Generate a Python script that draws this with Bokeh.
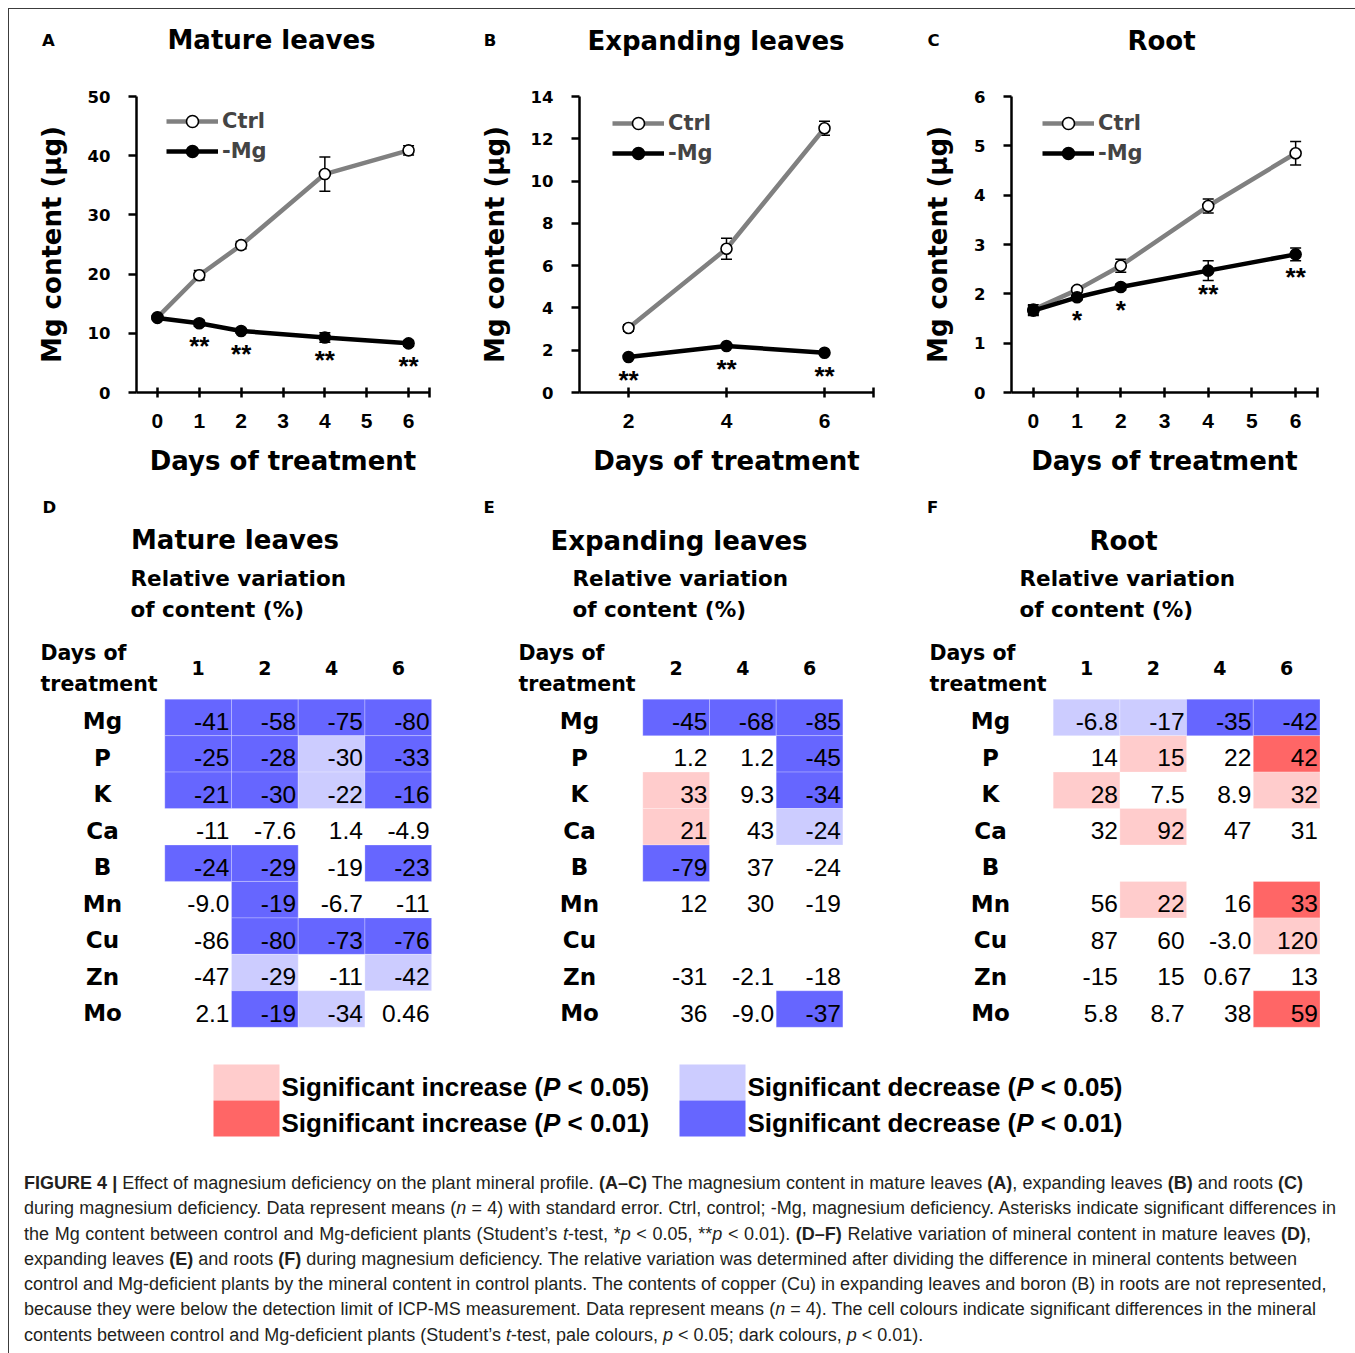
import math
from bokeh.plotting import figure
from bokeh.layouts import column, row
from bokeh.models import (Range1d, FixedTicker, Legend, LegendItem, Whisker,
                          TeeHead, ColumnDataSource, Div)
from bokeh.core.properties import value
from bokeh.embed import file_html
from bokeh.resources import INLINE

BOLD = "DejaVu Sans"
ARIAL = "Liberation Sans"

# ---------------- data: Mg content (line charts) ----------------
days_A = [0, 1, 2, 4, 6]
ctrl_A = [12.7, 19.8, 24.9, 36.9, 40.9]
ctrl_A_se = [0.3, 0.8, 0.6, 2.9, 0.8]
mg_A = [12.6, 11.7, 10.4, 9.3, 8.3]
mg_A_se = [0.4, 0.5, 0.4, 0.8, 0.5]
sig_A = ["", "**", "**", "**", "**"]

days_B = [2, 4, 6]
ctrl_B = [3.05, 6.8, 12.5]
ctrl_B_se = [0.15, 0.5, 0.33]
mg_B = [1.68, 2.2, 1.88]
mg_B_se = [0.08, 0.1, 0.08]
sig_B = ["**", "**", "**"]

days_C = [0, 1, 2, 4, 6]
ctrl_C = [1.68, 2.08, 2.57, 3.78, 4.85]
ctrl_C_se = [0.1, 0.05, 0.13, 0.14, 0.24]
mg_C = [1.66, 1.93, 2.14, 2.47, 2.80]
mg_C_se = [0.1, 0.05, 0.06, 0.2, 0.13]
sig_C = ["", "*", "*", "**", "**"]

panel_letters = ["A", "B", "C"]
panel_titles = ["Mature leaves", "Expanding leaves", "Root"]

# ---------------- data: relative variation (heatmaps) ----------------
elements = ["Mg", "P", "K", "Ca", "B", "Mn", "Cu", "Zn", "Mo"]

days_D = ["1", "2", "4", "6"]
val_D = [[-41, -58, -75, -80], [-25, -28, -30, -33], [-21, -30, -22, -16],
         [-11, -7.6, 1.4, -4.9], [-24, -29, -19, -23], [-9.0, -19, -6.7, -11],
         [-86, -80, -73, -76], [-47, -29, -11, -42], [2.1, -19, -34, 0.46]]
sig_D = [["d01", "d01", "d01", "d01"], ["d01", "d01", "d05", "d01"], ["d01", "d01", "d05", "d01"],
         ["", "", "", ""], ["d01", "d01", "", "d01"], ["", "d01", "", ""],
         ["", "d01", "d01", "d01"], ["", "d05", "", "d05"], ["", "d01", "d05", ""]]

days_E = ["2", "4", "6"]
val_E = [[-45, -68, -85], [1.2, 1.2, -45], [33, 9.3, -34], [21, 43, -24], [-79, 37, -24],
         [12, 30, -19], [None, None, None], [-31, -2.1, -18], [36, -9.0, -37]]
sig_E = [["d01", "d01", "d01"], ["", "", "d01"], ["i05", "", "d01"], ["i05", "", "d05"],
         ["d01", "", ""], ["", "", ""], ["", "", ""], ["", "", ""], ["", "", "d01"]]

days_F = ["1", "2", "4", "6"]
val_F = [[-6.8, -17, -35, -42], [14, 15, 22, 42], [28, 7.5, 8.9, 32], [32, 92, 47, 31],
         [None, None, None, None], [56, 22, 16, 33], [87, 60, -3.0, 120],
         [-15, 15, 0.67, 13], [5.8, 8.7, 38, 59]]
sig_F = [["d05", "d05", "d01", "d01"], ["", "i05", "", "i01"], ["i05", "", "", "i05"],
         ["", "i05", "", ""], ["", "", "", ""], ["", "i05", "", "i01"], ["", "", "", "i05"],
         ["", "", "", ""], ["", "", "", "i01"]]

sig_colors = {"i05": "#FFCCCC", "i01": "#FF6666", "d05": "#CCCCFF", "d01": "#6666FF"}

legend_keys = ["i05", "i01", "d05", "d01"]
legend_words = ["Significant increase (", "Significant increase (",
                "Significant decrease (", "Significant decrease ("]
legend_p = ["\u00a0< 0.05)", "\u00a0< 0.01)", "\u00a0< 0.05)", "\u00a0< 0.01)"]
legend_col = [0, 0, 1, 1]
legend_row = [0, 1, 0, 1]


def fmt(v):
    a = abs(v)
    if a >= 10:
        return f"{v:.0f}"
    d = 1 - math.floor(math.log10(a))
    return f"{v:.{d}f}"


# ---------------- header strip above the line charts ----------------
hx0, hw, hy0, hh = 9, 1346, 9, 70
pH = figure(width=hw, height=hh, x_range=Range1d(hx0, hx0 + hw), y_range=Range1d(hy0 + hh, hy0),
            x_axis_type=None, y_axis_type=None, output_backend="svg", toolbar_location=None,
            min_border=0)
pH.outline_line_color = None
pH.text(x=[48, 489.5, 933], y=[39.5, 39.5, 39.5], text=panel_letters, text_align="center",
        text_baseline="middle", text_font=value(BOLD), text_font_style="bold",
        text_font_size="16.5px", text_color="black")
pH.text(x=[271, 715.5, 1161], y=[39, 40.5, 40], text=panel_titles, text_align="center",
        text_baseline="middle", text_font=value(BOLD), text_font_style="bold",
        text_font_size="26px", text_color="black")


def line_panel(W, fl, fr, ft, fb, xr, yr, xticks, yticks, blank_tick,
               days, ctrl, ctrl_se, mg, mg_se, sig, leg_loc):
    H = 411
    p = figure(width=W, height=H, x_range=Range1d(*xr), y_range=Range1d(*yr),
               output_backend="svg", toolbar_location=None,
               min_border_left=fl, min_border_right=fr, min_border_top=ft, min_border_bottom=fb)
    p.xgrid.visible = False
    p.ygrid.visible = False
    p.outline_line_color = None

    for ax in (p.xaxis[0], p.yaxis[0]):
        ax.axis_line_width = 2.5
        ax.axis_line_color = "black"
        ax.major_tick_line_width = 2.5
        ax.major_tick_line_color = "black"
        ax.minor_tick_line_color = None
        ax.major_label_text_font_style = "bold"
        ax.major_label_text_color = "black"
        ax.axis_label_text_font = BOLD
        ax.axis_label_text_font_style = "bold"
        ax.axis_label_text_font_size = "26px"
        ax.axis_label_text_color = "black"
    p.xaxis.ticker = FixedTicker(ticks=xticks)
    p.xaxis.major_label_overrides = {blank_tick: ""}
    p.yaxis.ticker = FixedTicker(ticks=yticks)
    p.xaxis.major_tick_in = 5
    p.xaxis.major_tick_out = 5
    p.yaxis.major_tick_in = 0
    p.yaxis.major_tick_out = 8
    p.xaxis.major_label_text_font = ARIAL
    p.xaxis.major_label_text_font_size = "21px"
    p.xaxis.major_label_standoff = 16
    p.yaxis.major_label_text_font = BOLD
    p.yaxis.major_label_text_font_size = "16.5px"
    p.yaxis.major_label_standoff = 18
    p.xaxis.axis_label = "Days of treatment"
    p.yaxis.axis_label = "Mg content (µg)"
    p.xaxis.axis_label_standoff = 15
    p.yaxis.axis_label_standoff = 18

    src = ColumnDataSource(dict(
        x=days, c=ctrl, m=mg,
        cl=[v - e for v, e in zip(ctrl, ctrl_se)], cu=[v + e for v, e in zip(ctrl, ctrl_se)],
        ml=[v - e for v, e in zip(mg, mg_se)], mu=[v + e for v, e in zip(mg, mg_se)],
        s=sig))
    for lo, hi in (("cl", "cu"), ("ml", "mu")):
        p.add_layout(Whisker(base="x", lower=lo, upper=hi, source=src,
                             line_color="black", line_width=1.5,
                             upper_head=TeeHead(size=11, line_width=1.5, line_color="black"),
                             lower_head=TeeHead(size=11, line_width=1.5, line_color="black")))
    lc = p.line("x", "c", source=src, line_color="#808080", line_width=4.5)
    lm = p.line("x", "m", source=src, line_color="black", line_width=4.5)
    sc = p.scatter("x", "c", source=src, size=11, fill_color="white", line_color="black", line_width=1.6)
    sm = p.scatter("x", "m", source=src, size=11, fill_color="black", line_color="black", line_width=1.6)
    p.text("x", "m", text="s", source=src, text_align="center", text_baseline="middle",
           y_offset=23, text_font=value(ARIAL), text_font_style="bold", text_font_size="26px",
           text_color="black")

    leg = Legend(items=[LegendItem(label="Ctrl", renderers=[lc, sc]),
                        LegendItem(label="-Mg", renderers=[lm, sm])],
                 location=leg_loc, padding=0, margin=0, spacing=0,
                 glyph_width=52, glyph_height=30, label_standoff=4,
                 label_text_font=BOLD, label_text_font_style="bold", label_text_font_size="21px",
                 border_line_color=None, background_fill_alpha=0)
    p.add_layout(leg)
    return p


def heat_panel(fx0, W, cell_left, days, vals, sig, letter, letter_x, title, title_cx,
               title_cy, sub_x, days_x, elem_cx):
    fy0, H = 490, 555
    cw, rh = 66.7, 36.45
    cell_top = 698.7
    xc0 = cell_left + cw / 2
    yc0 = cell_top + rh / 2

    def X(px):
        return (px - xc0) / cw

    def Y(py):
        return (py - yc0) / rh

    p = figure(width=W, height=H, x_range=Range1d(X(fx0), X(fx0 + W)),
               y_range=Range1d(Y(fy0 + H), Y(fy0)), x_axis_type=None, y_axis_type=None,
               output_backend="svg", toolbar_location=None, min_border=0)
    p.outline_line_color = None

    cx, cy, cc = [], [], []
    tx, ty, tt = [], [], []
    for i, el in enumerate(elements):
        for j, d in enumerate(days):
            s = sig[i][j]
            if s:
                cx.append(j)
                cy.append(i)
                cc.append(sig_colors[s])
            v = vals[i][j]
            if v is not None:
                tx.append(j + 0.5)
                ty.append(i)
                tt.append(fmt(v))
    p.rect(x=cx, y=cy, width=1, height=1, fill_color=cc, line_color="white",
           line_alpha=0.25, line_width=1)
    mid = dict(text_baseline="middle", text_color="black")
    p.text(x=tx, y=ty, text=tt, text_align="right", x_offset=-2, y_offset=4,
           text_font=value(ARIAL), text_font_size="24.5px", **mid)
    p.text(x=[X(elem_cx)] * len(elements), y=list(range(len(elements))), text=elements,
           text_align="center", y_offset=4,
           text_font=value(BOLD), text_font_style="bold", text_font_size="23px", **mid)
    p.text(x=list(range(len(days))), y=[Y(667.5)] * len(days), text=days,
           text_align="center", text_font=value(BOLD), text_font_style="bold",
           text_font_size="19px", **mid)
    p.text(x=[X(days_x), X(days_x)], y=[Y(652.5), Y(683.5)], text=["Days of", "treatment"],
           text_align="left", text_font=value(BOLD), text_font_style="bold",
           text_font_size="20.5px", **mid)
    p.text(x=[X(title_cx)], y=[Y(title_cy)], text=[title], text_align="center",
           text_font=value(BOLD), text_font_style="bold", text_font_size="26px", **mid)
    p.text(x=[X(sub_x), X(sub_x)], y=[Y(577.5), Y(608.5)],
           text=["Relative variation", "of content (%)"], text_align="left",
           text_font=value(BOLD), text_font_style="bold", text_font_size="21.5px", **mid)
    p.text(x=[X(letter_x)], y=[Y(506.5)], text=[letter], text_align="left",
           text_font=value(BOLD), text_font_style="bold", text_font_size="16.5px", **mid)
    return p


pA = line_panel(441, 127, 21, 16, 97, (-0.5, 6.5), (0, 50), [0, 1, 2, 3, 4, 5, 6, 6.5],
                [0, 10, 20, 30, 40, 50], 6.5, days_A, ctrl_A, ctrl_A_se, mg_A, mg_A_se, sig_A,
                (30, 226))
pB = line_panel(445, 129, 22, 15, 98, (1, 7), (0, 14), [2, 4, 6, 7],
                [0, 2, 4, 6, 8, 10, 12, 14], 7, days_B, ctrl_B, ctrl_B_se, mg_B, mg_B_se, sig_B,
                (33, 224))
pC = line_panel(460, 116, 38, 17, 97, (-0.5, 6.5), (0, 6), [0, 1, 2, 3, 4, 5, 6, 6.5],
                [0, 1, 2, 3, 4, 5, 6], 6.5, days_C, ctrl_C, ctrl_C_se, mg_C, mg_C_se, sig_C,
                (31, 224))

pD = heat_panel(9, 461, 164.3, days_D, val_D, sig_D, "D", 42, "Mature leaves", 234.5, 539.5,
                130, 40, 102)
pE = heat_panel(470, 435, 642.3, days_E, val_E, sig_E, "E", 483, "Expanding leaves", 678.5, 540.5,
                572, 518, 579)
pF = heat_panel(905, 450, 1052.7, days_F, val_F, sig_F, "F", 926.5, "Root", 1123, 540.5,
                1019, 929, 990)

# ---------------- significance legend ----------------
AW = {"S": .667, "i": .278, "g": .611, "n": .611, "f": .333, "c": .556, "a": .556, "t": .333,
      " ": .278, "r": .389, "e": .556, "s": .556, "d": .611, "(": .333, "P": .667, "<": .584,
      "0": .556, ".": .278, "5": .556, "1": .556, ")": .333}
LFS = 26


def tw(s):
    return sum(AW[ch] for ch in s) * LFS


lx0, lw, ly0, lh = 9, 1346, 1045, 105
sw_c0, sw_dx, sw_r0, sw_dy = 246, 466, 1082, 36


def LX(px):
    return (px - sw_c0) / sw_dx


def LY(py):
    return (py - sw_r0) / sw_dy


pL = figure(width=lw, height=lh, x_range=Range1d(LX(lx0), LX(lx0 + lw)),
            y_range=Range1d(LY(ly0 + lh), LY(ly0)), x_axis_type=None, y_axis_type=None,
            output_backend="svg", toolbar_location=None, min_border=0)
pL.outline_line_color = None
pL.rect(x=legend_col, y=legend_row, width=66 / sw_dx, height=1,
        fill_color=[sig_colors[k] for k in legend_keys], line_color=None)
common = dict(text_baseline="middle", y_offset=4, text_font=value(ARIAL),
              text_font_style="bold", text_font_size=f"{LFS}px", text_color="black",
              text_align="left")
for k in range(4):
    w1 = tw(legend_words[k])
    pL.text(x=[legend_col[k]], y=[legend_row[k]], text=[legend_words[k]], x_offset=35, **common)
    c2 = dict(common)
    c2["text_font_style"] = "bold italic"
    pL.text(x=[legend_col[k]], y=[legend_row[k]], text=["P"], x_offset=35 + w1, **c2)
    pL.text(x=[legend_col[k]], y=[legend_row[k]], text=[legend_p[k]],
            x_offset=35 + w1 + tw("P"), **common)

# ---------------- caption ----------------
cap_lines = [
    "<b>FIGURE 4 |</b> Effect of magnesium deficiency on the plant mineral profile. <b>(A–C)</b> The magnesium content in mature leaves <b>(A)</b>, expanding leaves <b>(B)</b> and roots <b>(C)</b>",
    "during magnesium deficiency. Data represent means (<i>n</i> = 4) with standard error. Ctrl, control; -Mg, magnesium deficiency. Asterisks indicate significant differences in",
    "the Mg content between control and Mg-deficient plants (Student’s <i>t</i>-test, *<i>p</i> &lt; 0.05, **<i>p</i> &lt; 0.01). <b>(D–F)</b> Relative variation of mineral content in mature leaves <b>(D)</b>,",
    "expanding leaves <b>(E)</b> and roots <b>(F)</b> during magnesium deficiency. The relative variation was determined after dividing the difference in mineral contents between",
    "control and Mg-deficient plants by the mineral content in control plants. The contents of copper (Cu) in expanding leaves and boron (B) in roots are not represented,",
    "because they were below the detection limit of ICP-MS measurement. Data represent means (<i>n</i> = 4). The cell colours indicate significant differences in the mineral",
    "contents between control and Mg-deficient plants (Student’s <i>t</i>-test, pale colours, <i>p</i> &lt; 0.05; dark colours, <i>p</i> &lt; 0.01).",
]
cap_widths = [1279, 1312, 1287, 1273, 1285, 1292, None]
parts = []
for t, w in zip(cap_lines, cap_widths):
    if w:
        parts.append(f"<div style='width:{w}px;text-align:justify;text-align-last:justify;white-space:nowrap;overflow:visible'>{t}</div>")
    else:
        parts.append(f"<div style='white-space:nowrap'>{t}</div>")
cap_html = ("<div style=\"font-family:'Liberation Sans',Arial,sans-serif;font-size:18px;color:#231f20;"
            "line-height:25.3px;padding:21px 0 0 15px;\">" + "".join(parts) + "</div>")
cap = Div(text=cap_html, width=1346, height=203, margin=0)

root = column(pH, row(pA, pB, pC), row(pD, pE, pF), pL, cap, margin=(8, 0, 0, 8),
              styles={"border-left": "1px solid #3c3c3c", "border-top": "1px solid #3c3c3c"})

open("out.html", "w").write(file_html(root, INLINE))
